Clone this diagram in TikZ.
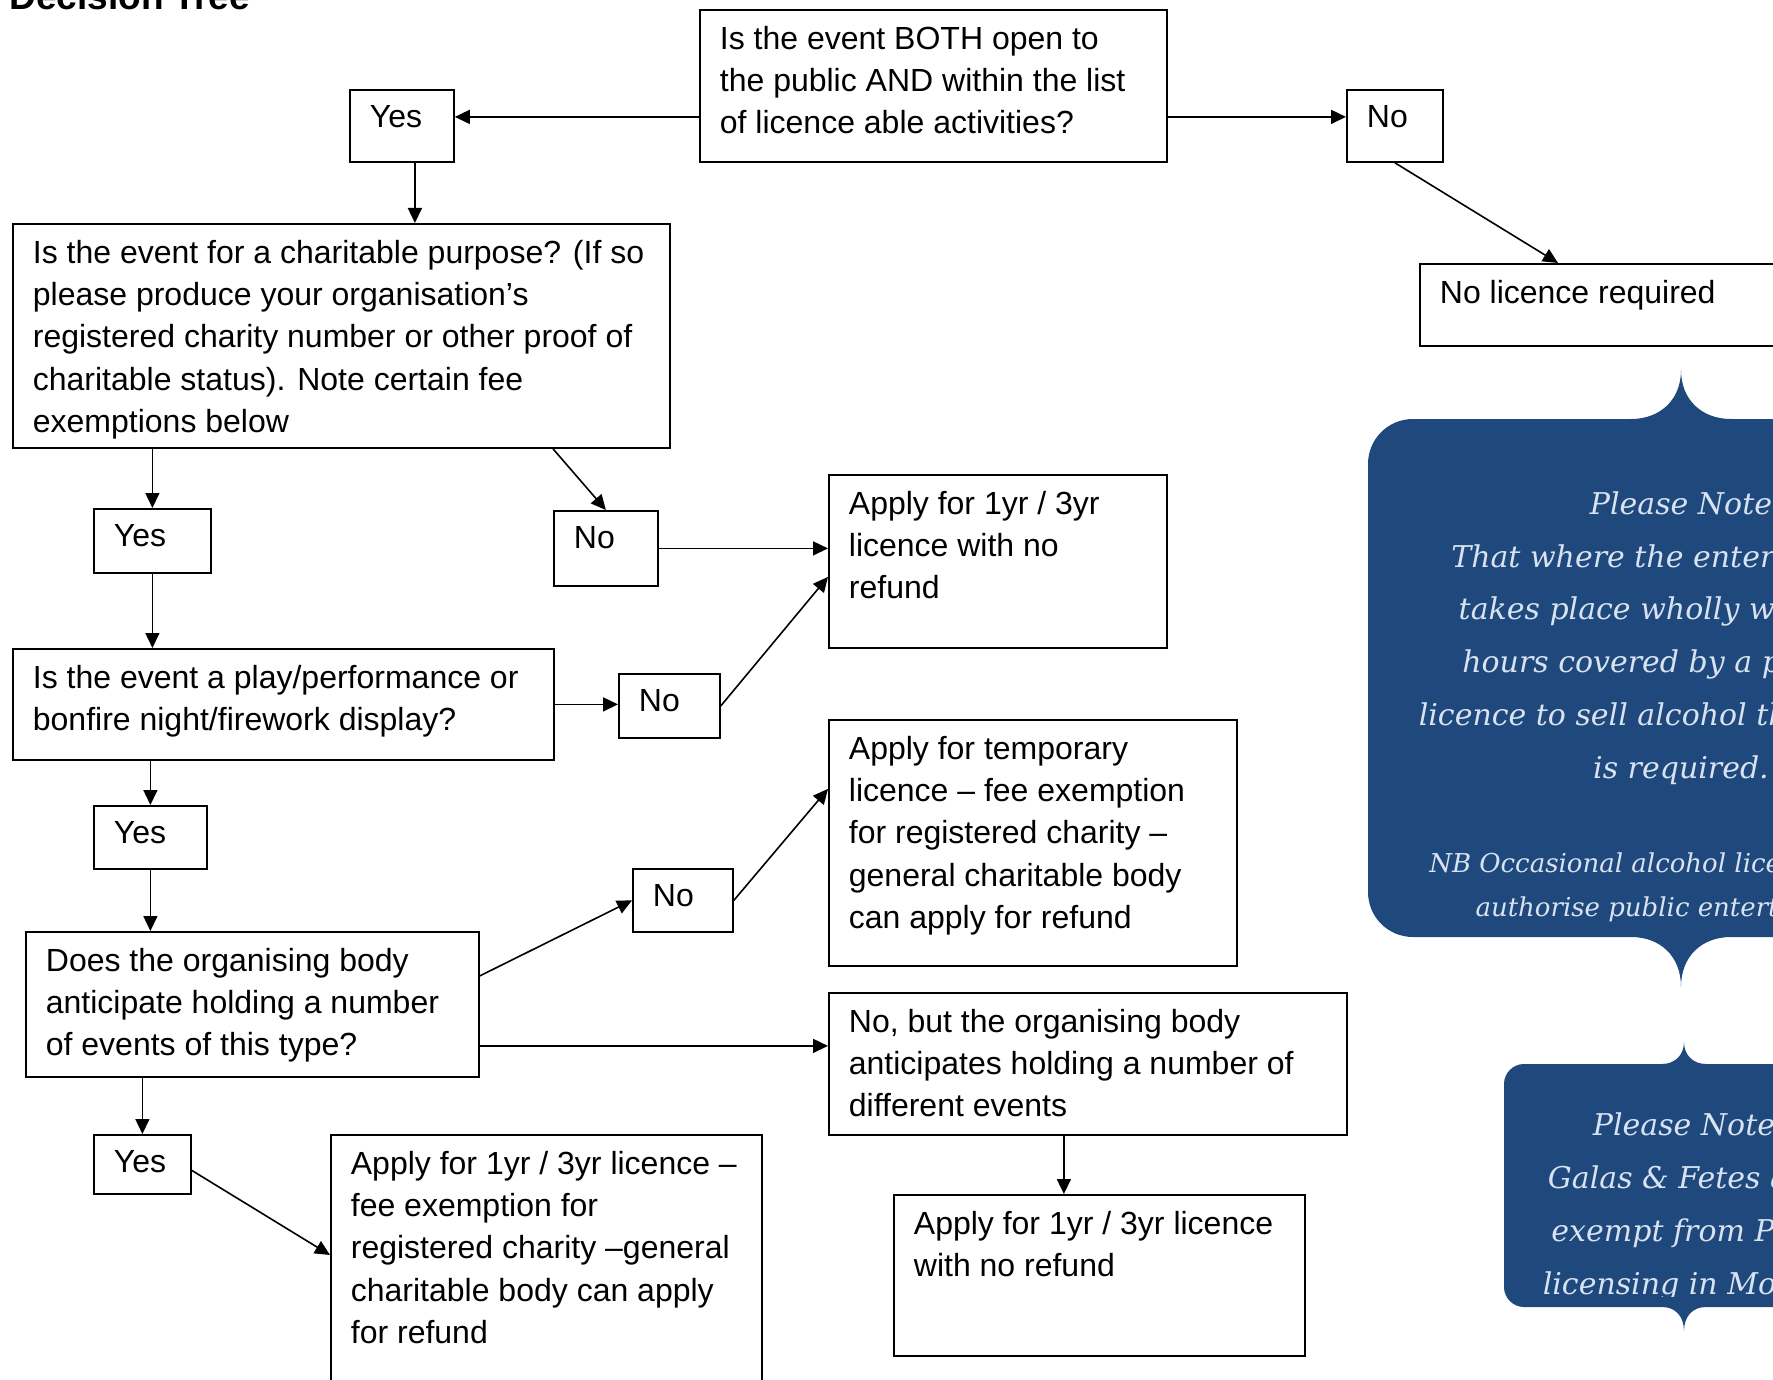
\documentclass[tikz,border=0pt]{standalone}
\usepackage{fontspec}
\setmainfont{Liberation Sans}
\newfontfamily\notefont{DejaVu Serif}
\usetikzlibrary{arrows.meta,calc}
\definecolor{noteblue}{RGB}{31,73,125}
\definecolor{notegrey}{RGB}{216,226,240}
\newcommand{\boxfont}{\fontsize{16}{21.2}\selectfont}
\newcommand{\boxtext}[3]{\parbox[c][\dimexpr #2pt/2-16pt\relax][t]{\dimexpr #1pt/2-20pt\relax}{\raggedright #3}}

\begin{document}
\begin{tikzpicture}[x=0.5pt, y=-0.5pt,
  flowbox/.style={draw, line width=0.9pt, anchor=north west, inner xsep=10pt, inner ysep=8pt, font=\boxfont},
  flowarrow/.style={line width=0.8pt, -{Triangle[length=7.5pt,width=7pt]}},
  notetext/.style={text=notegrey, align=center, inner sep=0pt, anchor=base}]
  \useasboundingbox (0,0) rectangle (1773,1380);
  \clip (0,0) rectangle (1773,1380);
  \fill[white] (0,0) rectangle (1773,1380);

  \node[anchor=base west, inner sep=0pt, font=\fontsize{18.5}{22}\selectfont\bfseries] (title) at (9,10) {Decision Tree};

  \node[flowbox] (b0) at (699,9) {\boxtext{467}{152}{Is the event BOTH open to\\the public AND within the list\\of licence able activities?}};
  \node[flowbox] (yes1) at (349,89) {\boxtext{104}{72}{Yes}};
  \node[flowbox] (no1) at (1346,89) {\boxtext{96}{72}{No}};
  \node[flowbox] (nolic) at (1419,263) {\boxtext{420}{82}{No licence required}};
  \node[flowbox] (b1) at (12,223) {\boxtext{657}{224}{Is the event for a charitable purpose? (If so\\please produce your organisation’s\\registered charity number or other proof of\\charitable status). Note certain fee\\exemptions below}};
  \node[flowbox] (yes2) at (93,508) {\boxtext{117}{64}{Yes}};
  \node[flowbox] (no2) at (553,510) {\boxtext{104}{75}{No}};
  \node[flowbox] (apply1) at (828,474) {\boxtext{338}{173}{Apply for 1yr / 3yr\\licence with no\\refund}};
  \node[flowbox] (b2) at (12,648) {\boxtext{541}{111}{Is the event a play/performance or\\bonfire night/firework display?}};
  \node[flowbox] (no3) at (618,673) {\boxtext{101}{64}{No}};
  \node[flowbox] (yes3) at (93,805) {\boxtext{113}{63}{Yes}};
  \node[flowbox] (apply2) at (828,719) {\boxtext{408}{246}{Apply for temporary\\licence – fee exemption\\for registered charity –\\general charitable body\\can apply for refund}};
  \node[flowbox] (no4) at (632,868) {\boxtext{100}{63}{No}};
  \node[flowbox] (b3) at (25,931) {\boxtext{453}{145}{Does the organising body\\anticipate holding a number\\of events of this type?}};
  \node[flowbox] (nobut) at (828,992) {\boxtext{518}{142}{No, but the organising body\\anticipates holding a number of\\different events}};
  \node[flowbox] (yes4) at (93,1134) {\boxtext{97}{59}{Yes}};
  \node[flowbox] (apply3) at (330,1134) {\boxtext{431}{300}{Apply for 1yr / 3yr licence –\\fee exemption for\\registered charity –general\\charitable body can apply\\for refund}};
  \node[flowbox] (apply4) at (893,1194) {\boxtext{411}{161}{Apply for 1yr / 3yr licence\\with no refund}};

  \coordinate (q0l) at ([yshift=-15.5pt]b0.west);
  \coordinate (q0r) at ([yshift=-15.5pt]b0.east);
  \draw[flowarrow] (q0l) -- (q0l -| yes1.east);
  \draw[flowarrow] (q0r) -- (q0r -| no1.west);
  \coordinate (y1s) at ([xshift=6.5pt]yes1.south);
  \draw[flowarrow] (y1s) -- (y1s |- b1.north);
  \draw[flowarrow] (no1.south) -- ([xshift=69.5pt]nolic.north west);
  \draw[flowarrow] (yes2.north |- b1.south) -- (yes2.north);
  \draw[flowarrow] (b1.south -| no2.west) -- (no2.north);
  \draw[flowarrow] (no2.east) -- (no2.east -| apply1.west);
  \draw[flowarrow] (yes2.south) -- (yes2.south |- b2.north);
  \draw[flowarrow] (b2.east) -- (b2.east -| no3.west);
  \draw[flowarrow] (no3.east) -- ([yshift=-7.75pt]apply1.west);
  \draw[flowarrow] (yes3.north |- b2.south) -- (yes3.north);
  \draw[flowarrow] (yes3.south) -- (yes3.south |- b3.north);
  \draw[flowarrow] ([yshift=14.25pt]b3.east) -- (no4.west);
  \draw[flowarrow] (no4.east) -- ([yshift=27pt]apply2.west);
  \coordinate (q3r) at ([yshift=-20.75pt]b3.east);
  \draw[flowarrow] (q3r) -- (q3r -| nobut.west);
  \draw[flowarrow] (yes4.north |- b3.south) -- (yes4.north);
  \draw[flowarrow] ([yshift=-3pt]yes4.east) -- ([yshift=-60.5pt]apply3.north west);
  \coordinate (nbs) at ([xshift=-12pt]nobut.south);
  \draw[flowarrow] (nbs) -- (nbs |- apply4.north);

  \fill[noteblue] (1413,419) -- (1631,419) .. controls (1660,419) and (1681,400) .. (1681,370)
    .. controls (1681,400) and (1702,419) .. (1731,419) -- (1900,419) -- (1900,937) -- (1731,937)
    .. controls (1702,937) and (1681,956) .. (1681,987) .. controls (1681,956) and (1660,937) .. (1631,937)
    -- (1413,937) .. controls (1388,937) and (1368,917) .. (1368,892) -- (1368,464)
    .. controls (1368,439) and (1388,419) .. (1413,419) -- cycle;
  \node[notetext, font=\notefont\itshape\fontsize{15}{26.35}\selectfont] (note1) at (1681,778) {Please Note\\That where the entertainment\\takes place wholly within the\\hours covered by a premises\\licence to sell alcohol then no PEL\\is required.};
  \node[notetext, font=\notefont\itshape\fontsize{13}{22}\selectfont] (note2) at (1681,916) {NB Occasional alcohol licences do not\\authorise public entertainment};

  \fill[noteblue] (1524,1064) -- (1662,1064) .. controls (1675,1064) and (1684,1055) .. (1684,1042)
    .. controls (1684,1055) and (1693,1064) .. (1706,1064) -- (1900,1064) -- (1900,1307) -- (1706,1307)
    .. controls (1693,1307) and (1684,1316) .. (1684,1331) .. controls (1684,1316) and (1675,1307) .. (1662,1307)
    -- (1524,1307) .. controls (1513,1307) and (1504,1298) .. (1504,1287) -- (1504,1084)
    .. controls (1504,1073) and (1513,1064) .. (1524,1064) -- cycle;
  \begin{scope}
    \clip (1504,1064) rectangle (1773,1296);
    \node[notetext, font=\notefont\itshape\fontsize{15}{26.35}\selectfont] (note3) at (1684,1294) {Please Note\\Galas \& Fetes are\\exempt from PEL\\licensing in Moray};
  \end{scope}
\end{tikzpicture}
\end{document}
